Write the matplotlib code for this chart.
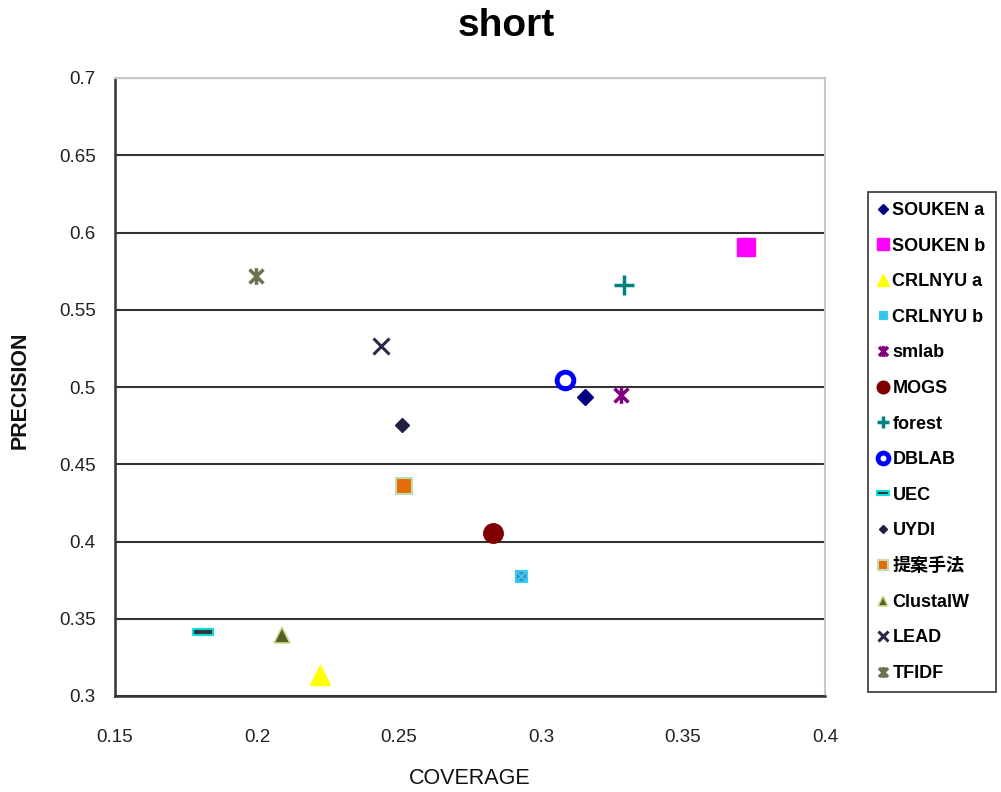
import matplotlib
matplotlib.use("Agg")
import matplotlib.pyplot as plt
from matplotlib.path import Path
import numpy as np

plt.rcParams['font.family'] = ['Liberation Sans', 'Noto Sans CJK JP', 'DejaVu Sans']

# ---- data ----
names = ["SOUKEN a", "SOUKEN b", "CRLNYU a", "CRLNYU b", "smlab", "MOGS", "forest",
         "DBLAB", "UEC", "UYDI", "提案手法", "ClustalW", "LEAD", "TFIDF"]
coverage = [0.3155, 0.3722, 0.2222, 0.2930, 0.3282, 0.2831, 0.3292,
            0.3085, 0.1810, 0.2511, 0.2518, 0.2088, 0.2437, 0.1996]
precision = [0.4935, 0.5906, 0.3136, 0.3777, 0.4948, 0.4055, 0.5660,
             0.5045, 0.3414, 0.4754, 0.4359, 0.3395, 0.5265, 0.5718]
xticks = [0.15, 0.2, 0.25, 0.3, 0.35, 0.4]
yticks = [0.3, 0.35, 0.4, 0.45, 0.5, 0.55, 0.6, 0.65, 0.7]
xtick_labels = ["0.15", "0.2", "0.25", "0.3", "0.35", "0.4"]
ytick_labels = ["0.3", "0.35", "0.4", "0.45", "0.5", "0.55", "0.6", "0.65", "0.7"]

# ---- custom markers ----
star_path = Path([(-1, -1), (1, 1), (-1, 1), (1, -1), (0, -1.2), (0, 1.2)],
                 [Path.MOVETO, Path.LINETO, Path.MOVETO, Path.LINETO, Path.MOVETO, Path.LINETO])
dash_path = Path([(-1, -0.3), (1, -0.3), (1, 0.3), (-1, 0.3), (-1, -0.3)],
                 [Path.MOVETO, Path.LINETO, Path.LINETO, Path.LINETO, Path.CLOSEPOLY])
boxx_path = Path([(-1, -1), (1, -1), (1, 1), (-1, 1), (-1, -1),
                  (-1, -1), (1, 1), (-1, 1), (1, -1)],
                 [Path.MOVETO, Path.LINETO, Path.LINETO, Path.LINETO, Path.CLOSEPOLY,
                  Path.MOVETO, Path.LINETO, Path.MOVETO, Path.LINETO])

styles = [
    dict(marker='D', ms=8, mfc='#000080', mec='#000080', mew=1),
    dict(marker='s', ms=13, mfc='#FF00FF', mec='#FF00FF', mew=1),
    dict(marker='^', ms=14, mfc='#FFFF00', mec='#FFFF00', mew=1),
    dict(marker=boxx_path, ms=8, mfc='#5080C0', mec='#33CCEE', mew=1.5),
    dict(marker=star_path, ms=12, mfc='none', mec='#800080', mew=2.5),
    dict(marker='o', ms=14, mfc='#800000', mec='#800000', mew=1),
    dict(marker='+', ms=14, mfc='none', mec='#008080', mew=2.5),
    dict(marker='o', ms=12, mfc='none', mec='#0000FF', mew=3.5),
    dict(marker=dash_path, ms=14, mfc='#333333', mec='#00DDDD', mew=1.5),
    dict(marker='D', ms=7, mfc='#1F2040', mec='#1F2040', mew=1),
    dict(marker='s', ms=12, mfc='#E36C09', mec='#C0DDB0', mew=1.5),
    dict(marker='^', ms=12, mfc='#4F6228', mec='#D8D890', mew=1.2),
    dict(marker='x', ms=12, mfc='none', mec='#2A2A48', mew=2.2),
    dict(marker=star_path, ms=12, mfc='none', mec='#707050', mew=2.5),
]

fig = plt.figure(figsize=(10.01, 7.92), dpi=100)
ax = fig.add_axes([115/1001, 1-696/792, 710/1001, 618/792])

handles = []
for n, x, y, st in zip(names, coverage, precision, styles):
    h, = ax.plot([x], [y], linestyle='none', label=n, **st)
    handles.append(h)

ax.set_xlim(0.15, 0.4)
ax.set_ylim(0.3, 0.7)
ax.set_xticks(xticks)
ax.set_xticklabels(xtick_labels)
ax.set_yticks(yticks)
ax.set_yticklabels(ytick_labels)
ax.tick_params(length=0, labelsize=13.5, colors='#222222')
ax.tick_params(axis='y', pad=14)
ax.tick_params(axis='x', pad=24)
ax.yaxis.grid(True, color='#333333', linewidth=1.5)
ax.set_axisbelow(True)
ax.spines['left'].set_color('#333333')
ax.spines['left'].set_linewidth(1.8)
ax.spines['bottom'].set_color('#333333')
ax.spines['bottom'].set_linewidth(1.8)
ax.spines['top'].set_color('#C8C8C8')
ax.spines['top'].set_linewidth(1.5)
ax.spines['right'].set_color('#C8C8C8')
ax.spines['right'].set_linewidth(1.5)

fig.text(506/1001, 1-26/792, "short", ha='center', va='center', fontsize=28, fontweight='bold')
fig.text(470/1001, 1-778/792, "COVERAGE", ha='center', va='center', fontsize=15.5, color='#111111')
fig.text(20/1001, 1-390/792, "PRECISION", ha='center', va='center', rotation=90, fontsize=15.5,
         fontweight='bold', color='#111111')

leg = fig.legend(handles=handles, loc='upper left', bbox_to_anchor=(868/1001, 1-192/792),
                 frameon=True, fancybox=False, edgecolor='black', markerscale=0.65,
                 handlelength=0.6, handletextpad=0.2, borderpad=0.55, labelspacing=1.03,
                 borderaxespad=0,
                 prop={'size': 13, 'weight': 'bold', 'family': ['Liberation Sans', 'Noto Sans CJK JP']})
leg.get_frame().set_linewidth(1.2)

fig.savefig("out.png", dpi=100)
